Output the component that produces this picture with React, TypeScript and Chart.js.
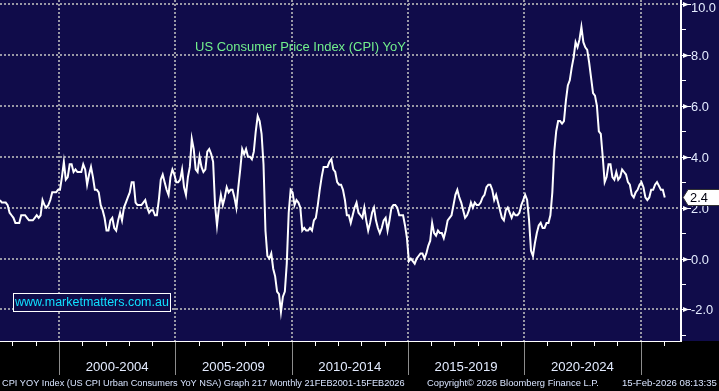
import React, { useEffect, useRef } from 'react';
import { Chart, registerables } from 'chart.js';

Chart.register(...registerables);

// ---- Data: US CPI YoY (%), monthly ----
const firstYear = 1997;
const firstMonth = 5; // May 1997
const cpi1997to1999 = [
  2.2, 2.3, 2.2, 2.2, 2.2, 2.1, 1.8, 1.7,
  1.6, 1.4, 1.4, 1.4, 1.7, 1.7, 1.7, 1.6, 1.5, 1.5, 1.5, 1.6,
  1.7, 1.6, 1.7, 2.3, 2.1, 2.0, 2.1, 2.3, 2.6, 2.6, 2.6, 2.7,
];
const cpi2000to2004 = [
  2.7, 3.2, 3.8, 3.1, 3.2, 3.7, 3.7, 3.4, 3.5, 3.4, 3.4, 3.4,
  3.7, 3.5, 2.9, 3.3, 3.6, 3.2, 2.7, 2.7, 2.6, 2.1, 1.9, 1.6,
  1.1, 1.1, 1.5, 1.6, 1.2, 1.1, 1.5, 1.8, 1.5, 2.0, 2.2, 2.4,
  2.6, 3.0, 3.0, 2.2, 2.1, 2.1, 2.1, 2.2, 2.3, 2.0, 1.8, 1.9,
  1.9, 1.7, 1.7, 2.3, 3.1, 3.3, 3.0, 2.7, 2.5, 3.2, 3.5, 3.3,
];
const cpi2005to2009 = [
  3.0, 3.0, 3.1, 3.5, 2.8, 2.5, 3.2, 3.6, 4.7, 4.3, 3.5, 3.4,
  4.0, 3.6, 3.4, 3.5, 4.2, 4.3, 4.1, 3.8, 2.1, 1.3, 2.0, 2.5,
  2.1, 2.4, 2.8, 2.6, 2.7, 2.7, 2.4, 2.0, 2.8, 3.5, 4.3, 4.1,
  4.3, 4.0, 4.0, 3.9, 4.2, 5.0, 5.6, 5.4, 4.9, 3.7, 1.1, 0.1,
  0.0, 0.2, -0.4, -0.7, -1.3, -1.4, -2.1, -1.5, -1.3, -0.2, 1.8, 2.7,
];
const cpi2010to2014 = [
  2.6, 2.1, 2.3, 2.2, 2.0, 1.1, 1.2, 1.1, 1.1, 1.2, 1.1, 1.5,
  1.6, 2.1, 2.7, 3.2, 3.6, 3.6, 3.6, 3.8, 3.9, 3.5, 3.4, 3.0,
  2.9, 2.9, 2.7, 2.3, 1.7, 1.7, 1.4, 1.7, 2.0, 2.2, 1.8, 1.7,
  1.6, 2.0, 1.5, 1.1, 1.4, 1.8, 2.0, 1.5, 1.2, 1.0, 1.2, 1.5,
  1.6, 1.1, 1.5, 2.0, 2.1, 2.1, 2.0, 1.7, 1.7, 1.7, 1.3, 0.8,
];
const cpi2015to2019 = [
  -0.1, 0.0, -0.1, -0.2, 0.0, 0.1, 0.2, 0.2, 0.0, 0.2, 0.5, 0.7,
  1.4, 1.0, 0.9, 1.1, 1.0, 1.0, 0.8, 1.1, 1.5, 1.6, 1.7, 2.1,
  2.5, 2.7, 2.4, 2.2, 1.9, 1.6, 1.7, 1.9, 2.2, 2.0, 2.2, 2.1,
  2.1, 2.2, 2.4, 2.5, 2.8, 2.9, 2.9, 2.7, 2.3, 2.5, 2.2, 1.9,
  1.6, 1.5, 1.9, 2.0, 1.8, 1.6, 1.8, 1.7, 1.7, 1.8, 2.1, 2.3,
];
const cpi2020to2024 = [
  2.5, 2.3, 1.5, 0.3, 0.1, 0.6, 1.0, 1.3, 1.4, 1.2, 1.2, 1.4,
  1.4, 1.7, 2.6, 4.2, 5.0, 5.4, 5.4, 5.3, 5.4, 6.2, 6.8, 7.0,
  7.5, 7.9, 8.5, 8.3, 8.6, 9.1, 8.5, 8.3, 8.2, 7.7, 7.1, 6.5,
  6.4, 6.0, 5.0, 4.9, 4.0, 3.0, 3.2, 3.7, 3.7, 3.2, 3.1, 3.4,
  3.1, 3.2, 3.5, 3.4, 3.3, 3.0, 2.9, 2.5, 2.4, 2.6, 2.7, 2.9,
];
const cpi2025to2026: (number | null)[] = [
  3.0, 2.8, 2.4, 2.3, 2.4, 2.7, 2.7, 2.9, 3.0, null, 2.7, 2.7,
  2.4,
];

// ---- Axis / labels ----
const xMin = 1997.463;
const xMax = 2026.74;
const yMin = -3.24;
const yMax = 10.157;
const periodStarts = [2000, 2005, 2010, 2015, 2020, 2025];
const periodLabels = ['2000-2004', '2005-2009', '2010-2014', '2015-2019', '2020-2024'];
const yearTicks = [1998, 1999, 2000, 2001, 2002, 2003, 2004, 2005, 2006, 2007, 2008, 2009, 2010, 2011, 2012, 2013, 2014, 2015, 2016, 2017, 2018, 2019, 2020, 2021, 2022, 2023, 2024, 2025, 2026];
const yMajorTicks = [-2, 0, 2, 4, 6, 8, 10];
const yMinorTicks = [-3, -1, 1, 3, 5, 7, 9];
const titleText = 'US Consumer Price Index (CPI) YoY';
const watermarkText = 'www.marketmatters.com.au';
const footerLeft = 'CPI YOY Index (US CPI Urban Consumers YoY NSA) Graph 217 Monthly 21FEB2001-15FEB2026';
const footerMid = 'Copyright\u00A9 2026 Bloomberg Finance L.P.';
const footerRight = '15-Feb-2026 08:13:35';

const NAVY = '#100c4a';
const GRID = 'rgba(160,160,170,0.95)';
const LABEL = '#e4ecff';
const FAMILY = '"Liberation Sans", Arial, sans-serif';

function buildPoints() {
  const all = [
    ...cpi1997to1999,
    ...cpi2000to2004,
    ...cpi2005to2009,
    ...cpi2010to2014,
    ...cpi2015to2019,
    ...cpi2020to2024,
    ...cpi2025to2026,
  ];
  return all.map((v, i) => {
    const m0 = firstMonth - 1 + i;
    const year = firstYear + Math.floor(m0 / 12);
    const month = m0 % 12;
    return { x: year + (month + 0.5) / 12, y: v };
  });
}

function fitFont(ctx: CanvasRenderingContext2D, text: string, width: number, family = FAMILY) {
  ctx.font = `100px ${family}`;
  const w = ctx.measureText(text).width;
  const size = (100 * width) / w;
  return `${size.toFixed(2)}px ${family}`;
}

const decorPlugin = {
  id: 'bbgDecor',
  beforeDraw(chart: any) {
    const ctx: CanvasRenderingContext2D = chart.ctx;
    const { chartArea } = chart;
    const xs = chart.scales.x;
    const ys = chart.scales.y;
    ctx.save();
    ctx.fillStyle = '#000';
    ctx.fillRect(0, 0, chart.width, chart.height);
    ctx.fillStyle = NAVY;
    ctx.fillRect(0, 0, chart.width, chartArea.bottom);
    // dotted grid
    ctx.strokeStyle = GRID;
    ctx.lineWidth = 2;
    ctx.setLineDash([2, 2]);
    for (const v of yMajorTicks) {
      const y = Math.round(ys.getPixelForValue(v));
      ctx.beginPath();
      ctx.moveTo(chartArea.left, y);
      ctx.lineTo(chartArea.right, y);
      ctx.stroke();
    }
    for (const v of periodStarts) {
      const x = Math.round(xs.getPixelForValue(v));
      ctx.beginPath();
      ctx.moveTo(x, chartArea.top);
      ctx.lineTo(x, chartArea.bottom);
      ctx.stroke();
    }
    ctx.restore();
  },
  afterDatasetsDraw(chart: any) {
    const ctx: CanvasRenderingContext2D = chart.ctx;
    const { chartArea } = chart;
    const xs = chart.scales.x;
    const ys = chart.scales.y;
    const bottom = chartArea.bottom;
    const right = chartArea.right;
    ctx.save();
    ctx.setLineDash([]);

    // axis lines
    ctx.fillStyle = '#ffffff';
    ctx.fillRect(0, bottom, right + 1, 1);
    ctx.fillRect(right - 1, 0, 2, bottom + 1);

    // x ticks
    for (const yr of yearTicks) {
      const x = Math.round(xs.getPixelForValue(yr));
      if (x > right) continue;
      if (yr % 5 === 0) {
        ctx.fillStyle = '#8c8c8c';
        ctx.fillRect(x, bottom + 1, 1, 33);
      } else {
        ctx.fillStyle = '#ffffff';
        ctx.fillRect(x, bottom + 1, 1, 4);
      }
    }

    // x period labels
    ctx.fillStyle = LABEL;
    ctx.font = fitFont(ctx, periodLabels[0], 63);
    ctx.textAlign = 'center';
    ctx.textBaseline = 'middle';
    periodLabels.forEach((lab, i) => {
      const x0 = xs.getPixelForValue(periodStarts[i]);
      const x1 = xs.getPixelForValue(periodStarts[i + 1]);
      ctx.fillText(lab, (x0 + x1) / 2, 367);
    });

    // y ticks
    ctx.fillStyle = '#ffffff';
    for (const v of yMinorTicks) {
      const y = Math.round(ys.getPixelForValue(v));
      ctx.fillRect(right + 1, y, 4, 1);
    }
    for (const v of yMajorTicks) {
      const y = Math.round(ys.getPixelForValue(v)) + 0.5;
      ctx.fillRect(right + 1, y - 0.5, 9, 1);
      ctx.beginPath();
      ctx.moveTo(right + 2, y - 2.5);
      ctx.lineTo(right + 8, y);
      ctx.lineTo(right + 2, y + 2.5);
      ctx.closePath();
      ctx.fill();
    }
    ctx.fillStyle = LABEL;
    ctx.font = fitFont(ctx, '10.0', 25);
    ctx.textAlign = 'left';
    ctx.textBaseline = 'middle';
    for (const v of yMajorTicks) {
      const y = Math.max(ys.getPixelForValue(v) + 1.5, 8.5);
      ctx.fillText(v.toFixed(1), 691, y);
    }

    // last value tag
    const pts = chart.data.datasets[0].data as { x: number; y: number | null }[];
    let last = pts[pts.length - 1];
    for (let i = pts.length - 1; i >= 0; i--) {
      if (pts[i].y !== null) { last = pts[i]; break; }
    }
    const yc = Math.round(ys.getPixelForValue(last.y as number)) + 0.5;
    ctx.beginPath();
    ctx.moveTo(right + 2, yc);
    ctx.lineTo(right + 7, yc - 8);
    ctx.lineTo(chart.width + 2, yc - 8);
    ctx.lineTo(chart.width + 2, yc + 8);
    ctx.lineTo(right + 7, yc + 8);
    ctx.closePath();
    ctx.fillStyle = '#ffffff';
    ctx.fill();
    ctx.strokeStyle = '#333333';
    ctx.lineWidth = 1;
    ctx.stroke();
    ctx.fillStyle = '#000010';
    ctx.font = fitFont(ctx, '10.0', 25);
    ctx.fillText((last.y as number).toFixed(1), 690, yc + 0.5);

    // title
    ctx.fillStyle = '#72f08c';
    ctx.font = fitFont(ctx, titleText, 211);
    ctx.textAlign = 'left';
    ctx.fillText(titleText, 195, 47.5);

    // watermark box
    ctx.fillStyle = NAVY;
    ctx.fillRect(13, 293, 158, 19);
    ctx.strokeStyle = '#ffffff';
    ctx.lineWidth = 1;
    ctx.strokeRect(13.5, 293.5, 157, 18);
    ctx.fillStyle = '#10e0ff';
    ctx.font = fitFont(ctx, watermarkText, 154);
    ctx.fillText(watermarkText, 15, 303);

    // footer
    ctx.fillStyle = '#d8e4ff';
    ctx.textBaseline = 'middle';
    ctx.font = fitFont(ctx, footerLeft, 403);
    ctx.fillText(footerLeft, 2, 383.5);
    ctx.font = fitFont(ctx, footerMid, 172);
    ctx.fillText(footerMid, 427, 383.5);
    ctx.font = fitFont(ctx, footerRight, 95);
    ctx.fillText(footerRight, 622, 383.5);

    ctx.restore();
  },
};

export default function App() {
  const ref = useRef<HTMLCanvasElement | null>(null);

  useEffect(() => {
    document.body.style.margin = '0';
    document.body.style.background = '#000';
    const canvas = ref.current;
    if (!canvas) return;
    const chart = new Chart(canvas, {
      type: 'line',
      data: {
        datasets: [
          {
            label: 'US CPI YoY',
            data: buildPoints() as any,
            borderColor: '#ffffff',
            borderWidth: 2,
            pointRadius: 0,
            tension: 0,
            spanGaps: true,
            fill: false,
          },
        ],
      },
      options: {
        animation: false,
        responsive: false,
        devicePixelRatio: 1,
        layout: { padding: 0 },
        plugins: { legend: { display: false }, tooltip: { enabled: false } },
        events: [],
        scales: {
          x: {
            type: 'linear',
            min: xMin,
            max: xMax,
            display: true,
            ticks: { display: false },
            grid: { display: false },
            border: { display: false },
            afterFit: (s: any) => { s.height = 50; },
          },
          y: {
            type: 'linear',
            position: 'right',
            min: yMin,
            max: yMax,
            display: true,
            ticks: { display: false },
            grid: { display: false },
            border: { display: false },
            afterFit: (s: any) => { s.width = 38; },
          },
        },
      },
      plugins: [decorPlugin],
    });
    return () => chart.destroy();
  }, []);

  return (
    <div style={{ width: 719, height: 391 }}>
      <canvas ref={ref} width={719} height={391} style={{ display: 'block', width: 719, height: 391 }} />
    </div>
  );
}
